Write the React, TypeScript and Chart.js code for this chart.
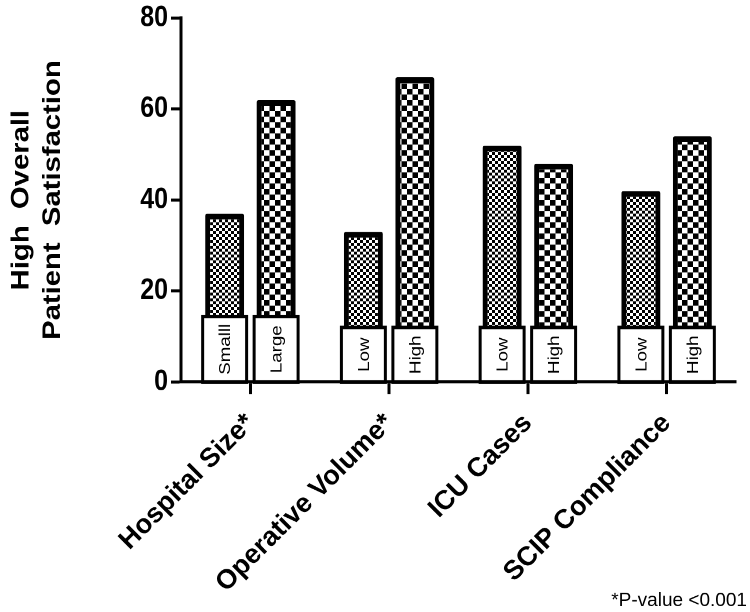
import React, { useEffect, useRef } from "react";
import { Chart, registerables } from "chart.js";

Chart.register(...registerables);

const categories = ["Hospital Size*", "Operative Volume*", "ICU Cases", "SCIP Compliance"];
const lowValues = [37, 33, 52, 42];
const highValues = [62, 67, 48, 54];
const lowLabels = ["Smalll", "Low", "Low", "Low"];
const highLabels = ["Large", "High", "High", "High"];
const labelBoxTop = [14.4, 12, 12, 12];
const yTicks = [0, 20, 40, 60, 80];
const yTitle = ["High  Overall", "Patient  Satisfaction"];
const footnote = "*P-value <0.001";

const FONT = "'Liberation Sans', Arial, Helvetica, sans-serif";
const W = 750;
const H_OUT = 612;
const H_IN = 523;
const STRETCH = H_OUT / H_IN;
const DPR = 2;

function makePattern(cellW: number, cellH: number): CanvasPattern {
  const cw = cellW * DPR;
  const ch = cellH * DPR;
  const c = document.createElement("canvas");
  c.width = Math.round(cw * 2);
  c.height = Math.round(ch * 2);
  const g = c.getContext("2d")!;
  g.fillStyle = "#ffffff";
  g.fillRect(0, 0, c.width, c.height);
  g.fillStyle = "#000000";
  g.fillRect(0, 0, c.width / 2, c.height / 2);
  g.fillRect(c.width / 2, c.height / 2, c.width / 2, c.height / 2);
  const p = g.createPattern(c, "repeat")!;
  p.setTransform(new DOMMatrix([1 / DPR, 0, 0, 1 / DPR, 0, 0]));
  return p;
}

const labelBoxPlugin = {
  id: "labelBoxes",
  afterDatasetsDraw(chart: any) {
    const ctx = chart.ctx;
    const yScale = chart.scales.y;
    const labelSets = [lowLabels, highLabels];
    for (let d = 0; d < 2; d++) {
      const meta = chart.getDatasetMeta(d);
      meta.data.forEach((bar: any, i: number) => {
        const w = bar.width + 5;
        const left = bar.x - w / 2;
        const top = yScale.getPixelForValue(labelBoxTop[i]);
        const bottom = yScale.getPixelForValue(0);
        ctx.save();
        ctx.fillStyle = "#ffffff";
        ctx.fillRect(left, top, w, bottom - top);
        ctx.strokeStyle = "#000000";
        ctx.lineWidth = 3;
        ctx.strokeRect(left, top, w, bottom - top);
        ctx.translate(bar.x, (top + bottom) / 2);
        ctx.rotate(-Math.PI / 2);
        ctx.fillStyle = "#000000";
        ctx.font = `16px ${FONT}`;
        ctx.textAlign = "center";
        ctx.textBaseline = "middle";
        ctx.fillText(labelSets[d][i], 0, 1);
        ctx.restore();
      });
    }
  },
};

// category labels drawn upright (undoing the vertical stretch) at the x scale's tick positions
const xLabelPlugin = {
  id: "xLabels",
  afterDraw(chart: any) {
    const ctx = chart.ctx;
    const xScale = chart.scales.x;
    const tickEnd = (xScale.top + xScale.options.grid.tickLength) * STRETCH;
    ctx.save();
    ctx.scale(1, 1 / STRETCH);
    ctx.fillStyle = "#000000";
    ctx.font = `bold 27px ${FONT}`;
    ctx.textAlign = "right";
    ctx.textBaseline = "middle";
    categories.forEach((label, i) => {
      const x = xScale.getPixelForTick(i);
      ctx.save();
      ctx.translate(x, tickEnd + 25);
      ctx.rotate(-Math.PI / 4);
      ctx.fillText(label, 0, 0);
      ctx.restore();
    });
    ctx.restore();
  },
};

const footnotePlugin = {
  id: "footnote",
  afterDraw(chart: any) {
    const ctx = chart.ctx;
    ctx.save();
    ctx.scale(1, 1 / STRETCH);
    ctx.fillStyle = "#000000";
    ctx.font = `19px ${FONT}`;
    ctx.textAlign = "right";
    ctx.textBaseline = "alphabetic";
    ctx.fillText(footnote, 747, 606);
    ctx.restore();
  },
};

export default function App() {
  const ref = useRef<HTMLCanvasElement | null>(null);

  useEffect(() => {
    if (!ref.current) return;
    const fine = makePattern(3, 3 / STRETCH);
    const coarse = makePattern(5.6, 5.6 / STRETCH);
    const tickFont = { family: FONT, size: 25, weight: "bold" as const, lineHeight: 1.0 };
    const chartTop = 15 / STRETCH;
    const chartBottom = 382 / STRETCH;
    const chart = new Chart(ref.current, {
      type: "bar",
      data: {
        labels: categories,
        datasets: [
          {
            label: "Low",
            data: lowValues,
            backgroundColor: fine,
            borderColor: "#000000",
            borderWidth: 5,
            borderRadius: 2,
            barPercentage: 0.757,
            categoryPercentage: 0.742,
          },
          {
            label: "High",
            data: highValues,
            backgroundColor: coarse,
            borderColor: "#000000",
            borderWidth: 5,
            borderRadius: 2,
            barPercentage: 0.757,
            categoryPercentage: 0.742,
          },
        ],
      },
      options: {
        responsive: false,
        maintainAspectRatio: false,
        devicePixelRatio: DPR,
        animation: false,
        events: [],
        layout: { padding: { left: 0, top: chartTop, right: 14, bottom: 0 } },
        plugins: {
          legend: { display: false },
          tooltip: { enabled: false },
          title: { display: false },
        },
        scales: {
          x: {
            offset: true,
            grid: {
              offset: false,
              drawOnChartArea: false,
              drawTicks: true,
              tickLength: 12 / STRETCH,
              tickWidth: 3,
              tickColor: "#000000",
            },
            border: { display: true, color: "#000000", width: 3 / STRETCH },
            ticks: { display: false, autoSkip: false },
            afterFit: (s: any) => {
              s.height = H_IN - chartBottom;
            },
          },
          y: {
            min: 0,
            max: 80,
            afterBuildTicks: (s: any) => {
              s.ticks = yTicks.map((v) => ({ value: v }));
            },
            ticks: { color: "#000000", font: tickFont, padding: 3 },
            grid: {
              drawOnChartArea: false,
              drawTicks: true,
              tickLength: 10,
              tickWidth: 3 / STRETCH,
              tickColor: "#000000",
            },
            border: { display: true, color: "#000000", width: 3 },
            title: {
              display: true,
              text: yTitle,
              color: "#000000",
              font: { family: FONT, size: 25, weight: "bold" as const, lineHeight: 1.25 },
              padding: { top: 6, bottom: 0 },
            },
            afterFit: (s: any) => {
              s.width = 181;
            },
          },
        },
      },
      plugins: [labelBoxPlugin, xLabelPlugin, footnotePlugin],
    });
    return () => chart.destroy();
  }, []);

  return (
    <div
      style={{
        position: "absolute",
        left: 0,
        top: 0,
        width: W,
        height: H_OUT,
        overflow: "hidden",
        background: "#ffffff",
      }}
    >
      <canvas
        ref={ref}
        width={W}
        height={H_IN}
        style={{
          display: "block",
          width: W + "px",
          height: H_IN + "px",
          transform: `scaleY(${STRETCH})`,
          transformOrigin: "0 0",
        }}
      />
    </div>
  );
}
